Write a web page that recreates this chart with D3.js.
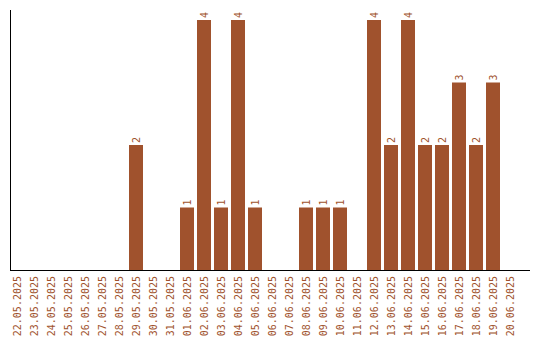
<!DOCTYPE html>
<html>
<head>
<meta charset="utf-8">
<script src="https://cdn.jsdelivr.net/npm/d3@7"></script>
<style>
  body { margin: 0; background: #fff; }
  text { font-family: "DejaVu Sans Mono", monospace; font-size: 10px; fill: #a0522d; }
</style>
</head>
<body>
<div id="chart"></div>
<script>
// dates shown on the x axis
var dates = ["22.05.2025", "23.05.2025", "24.05.2025", "25.05.2025", "26.05.2025",
  "27.05.2025", "28.05.2025", "29.05.2025", "30.05.2025", "31.05.2025",
  "01.06.2025", "02.06.2025", "03.06.2025", "04.06.2025", "05.06.2025",
  "06.06.2025", "07.06.2025", "08.06.2025", "09.06.2025", "10.06.2025",
  "11.06.2025", "12.06.2025", "13.06.2025", "14.06.2025", "15.06.2025",
  "16.06.2025", "17.06.2025", "18.06.2025", "19.06.2025", "20.06.2025"];

// count per day
var counts = [0, 0, 0, 0, 0, 0, 0, 2, 0, 0,
  1, 4, 1, 4, 1, 0, 0, 1, 1, 1,
  0, 4, 2, 4, 2, 2, 3, 2, 3, 0];

var data = dates.map(function(d, i) { return {date: d, value: counts[i]}; });

var width = 540, height = 340;
var plotLeft = 10, plotTop = 10, plotBottom = 270, axisRight = 530;

var svg = d3.select("#chart").append("svg")
  .attr("width", width)
  .attr("height", height);

var x = d3.scaleBand()
  .domain(dates)
  .range([plotLeft, 517])
  .paddingInner(3 / 17)
  .paddingOuter(0);

var y = d3.scaleLinear()
  .domain([0, 4.16])
  .range([plotBottom, plotTop]);

var nonZero = data.filter(function(d) { return d.value > 0; });

// bars
svg.selectAll(".bar")
  .data(nonZero)
  .enter().append("rect")
  .attr("class", "bar")
  .attr("x", function(d) { return x(d.date); })
  .attr("width", x.bandwidth())
  .attr("y", function(d) { return y(d.value); })
  .attr("height", function(d) { return plotBottom - y(d.value); })
  .style("fill", "#a0522d");

// value labels, rotated like the dates
svg.selectAll(".val")
  .data(nonZero)
  .enter().append("text")
  .attr("class", "val")
  .attr("transform", function(d) {
    return "translate(" + (x(d.date) + x.bandwidth() / 2 + 3.5) + "," + (y(d.value) - 2) + ") rotate(-90)";
  })
  .attr("text-anchor", "start")
  .text(function(d) { return d.value; });

// date labels
svg.selectAll(".lab")
  .data(data)
  .enter().append("text")
  .attr("class", "lab")
  .attr("transform", function(d) {
    return "translate(" + (x(d.date) + x.bandwidth() / 2 + 3.5) + "," + (plotBottom + 6) + ") rotate(-90)";
  })
  .attr("text-anchor", "end")
  .text(function(d) { return d.date; });

// axes lines
svg.append("line")
  .attr("x1", plotLeft + 0.5).attr("x2", plotLeft + 0.5)
  .attr("y1", plotTop).attr("y2", plotBottom)
  .attr("stroke", "#000");

svg.append("line")
  .attr("x1", plotLeft).attr("x2", axisRight)
  .attr("y1", plotBottom + 0.5).attr("y2", plotBottom + 0.5)
  .attr("stroke", "#000");
</script>
</body>
</html>
